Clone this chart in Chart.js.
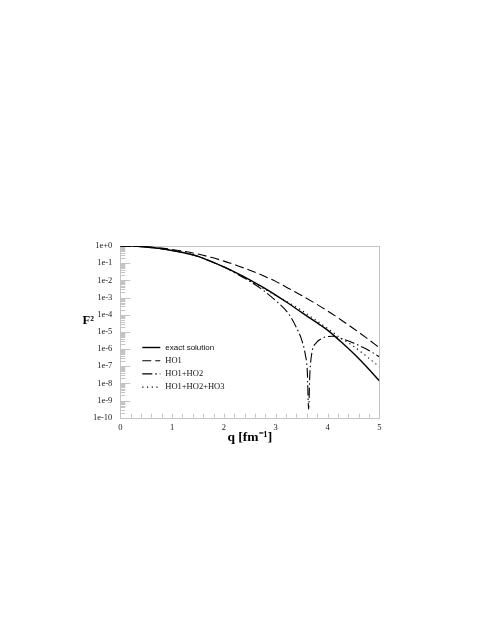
<!DOCTYPE html>
<html lang="en">
<head>
<meta charset="UTF-8">
<title>F2 vs q</title>
<script src="https://cdn.jsdelivr.net/npm/chart.js@4"></script>
<style>
  html, body { margin: 0; padding: 0; background: #fff; }
  canvas { display: block; }
</style>
</head>
<body>
<canvas id="ffChart" width="488" height="632"></canvas>
<script>
// q values [fm^-1]
const qGrid = [0, 0.25, 0.5, 0.75, 1, 1.25, 1.5, 1.75, 2, 2.25, 2.5, 2.75, 3, 3.25, 3.5, 3.75, 4, 4.25, 4.5, 4.75, 5];
// HO1+HO2 is read more densely around its zero
const qHO12 = [0, 0.25, 0.5, 0.75, 1, 1.25, 1.5, 1.75, 2, 2.25, 2.5, 2.75, 3, 3.25, 3.4, 3.5, 3.57, 3.61, 3.635, 3.66, 3.7, 3.78, 3.88, 4, 4.1, 4.25, 4.5, 4.75, 5];

const exactSolution = [1, 0.977, 0.871, 0.724, 0.55, 0.389, 0.251, 0.126, 0.0603, 0.0263, 0.0107, 3.98e-3, 1.38e-3, 4.47e-4, 1.35e-4, 4.17e-5, 1.26e-5, 2.82e-6, 5.62e-7, 9.55e-8, 1.41e-8];
const ho1 = [1, 0.977, 0.891, 0.776, 0.631, 0.479, 0.339, 0.219, 0.132, 0.0741, 0.0389, 0.0191, 8.71e-3, 3.39e-3, 1.32e-3, 4.79e-4, 1.66e-4, 5.25e-5, 1.58e-5, 4.47e-6, 1.2e-6];
const ho12 = [1, 0.977, 0.871, 0.724, 0.55, 0.389, 0.251, 0.126, 0.0589, 0.024, 8.71e-3, 2.75e-3, 6.61e-4, 1.12e-4, 1.78e-5, 3.55e-6, 5.01e-7, 5.01e-8, 3.16e-10, 3.98e-8, 6.31e-7, 2.24e-6, 3.98e-6, 5.37e-6, 5.5e-6, 4.17e-6, 2.24e-6, 1.0e-6, 3.55e-7];
const ho123 = [1, 0.977, 0.871, 0.724, 0.55, 0.389, 0.251, 0.126, 0.0603, 0.0251, 9.55e-3, 3.55e-3, 1.32e-3, 5.01e-4, 1.78e-4, 5.37e-5, 1.58e-5, 4.47e-6, 1.48e-6, 3.8e-7, 9.33e-8];

const seriesNames = ['exact solution', 'HO1', 'HO1+HO2', 'HO1+HO2+HO3'];
const legendFonts = ['8px "Liberation Sans"', '8.5px "Liberation Serif"', '8.5px "Liberation Serif"', '8.5px "Liberation Serif"'];
const xTickLabels = ['0', '1', '2', '3', '4', '5'];
const yTickLabels = ['1e+0', '1e-1', '1e-2', '1e-3', '1e-4', '1e-5', '1e-6', '1e-7', '1e-8', '1e-9', '1e-10'];

const pts = (xs, ys) => xs.map((x, i) => ({ x: x, y: ys[i] }));
const isDecade = v => Math.abs(Math.log10(v) - Math.round(Math.log10(v))) < 1e-6;
const axisGray = '#c4c4c4';

// frame, inward ticks, F^2 label and the legend inside the plot
const decorations = {
    id: 'decorations',
    beforeDatasetsDraw(chart) {
        const { ctx, chartArea: a, scales: { x, y } } = chart;
        ctx.save();
        ctx.strokeStyle = axisGray;
        ctx.lineWidth = 1;
        ctx.beginPath();
        y.ticks.forEach(t => {
            const py = Math.round(y.getPixelForValue(t.value)) + 0.5;
            ctx.moveTo(a.left, py);
            ctx.lineTo(a.left + (isDecade(t.value) ? 10 : 5), py);
        });
        x.ticks.forEach(t => {
            const px = Math.round(x.getPixelForValue(t.value)) + 0.5;
            ctx.moveTo(px, a.bottom);
            ctx.lineTo(px, a.bottom - 4);
        });
        ctx.stroke();
        ctx.strokeRect(Math.round(a.left) + 0.5, Math.round(a.top) + 0.5, Math.round(a.width), Math.round(a.height));

        ctx.fillStyle = '#000';
        ctx.font = 'bold 12.5px "Liberation Serif"';
        ctx.textAlign = 'center';
        ctx.textBaseline = 'middle';
        ctx.fillText('F²', a.left - 32, a.top + 75);
        ctx.restore();
    },
    afterDatasetsDraw(chart) {
        const { ctx, chartArea: a } = chart;
        ctx.save();
        chart.data.datasets.forEach((ds, i) => {
            const yy = a.top + 101.5 + i * 13.2;
            ctx.strokeStyle = ds.borderColor;
            ctx.lineWidth = ds.borderWidth;
            ctx.setLineDash(ds.borderDash || []);
            ctx.beginPath();
            ctx.moveTo(a.left + 22, yy);
            ctx.lineTo(a.left + 40, yy);
            ctx.stroke();
            ctx.setLineDash([]);
            ctx.fillStyle = '#111';
            ctx.font = legendFonts[i];
            ctx.textAlign = 'left';
            ctx.textBaseline = 'middle';
            ctx.fillText(ds.label, a.left + 45, yy);
        });
        ctx.restore();
    }
};

const ctx = document.getElementById('ffChart').getContext('2d');
new Chart(ctx, {
    type: 'line',
    data: {
        datasets: [
            { label: seriesNames[0], data: pts(qGrid, exactSolution), borderColor: '#000', borderWidth: 1.4 },
            { label: seriesNames[1], data: pts(qGrid, ho1), borderColor: '#000', borderWidth: 1.1, borderDash: [9, 4] },
            { label: seriesNames[2], data: pts(qHO12, ho12), borderColor: '#000', borderWidth: 1.1, borderDash: [10, 3, 1.5, 3] },
            { label: seriesNames[3], data: pts(qGrid, ho123), borderColor: '#000', borderWidth: 1.1, borderDash: [1.2, 3.5] }
        ]
    },
    options: {
        responsive: false,
        animation: false,
        devicePixelRatio: 1,
        layout: { padding: { left: 0, top: 246, right: 108.7, bottom: 186.3 } },
        elements: { point: { radius: 0 }, line: { cubicInterpolationMode: 'monotone', fill: false } },
        plugins: { legend: { display: false }, tooltip: { enabled: false } },
        scales: {
            x: {
                type: 'linear',
                min: 0,
                max: 5,
                grid: { display: false, drawTicks: false },
                border: { display: false },
                ticks: {
                    stepSize: 0.2,
                    autoSkip: false,
                    maxRotation: 0,
                    padding: 5,
                    color: '#222',
                    font: { family: 'Liberation Serif', size: 8.5 },
                    callback: v => Math.abs(v - Math.round(v)) < 1e-6 ? xTickLabels[Math.round(v)] : ''
                },
                title: {
                    display: true,
                    text: 'q [fm⁻¹]',
                    color: '#000',
                    padding: 0,
                    font: { family: 'Liberation Serif', size: 13.5, weight: 'bold' }
                },
                afterFit: s => { s.height = 28; }
            },
            y: {
                type: 'logarithmic',
                min: 1e-10,
                max: 1,
                grid: { display: false, drawTicks: false },
                border: { display: false },
                ticks: {
                    autoSkip: false,
                    padding: 8,
                    color: '#222',
                    font: { family: 'Liberation Serif', size: 8.5 },
                    callback: v => isDecade(v) ? yTickLabels[-Math.round(Math.log10(v))] : ''
                },
                afterBuildTicks: s => {
                    const ticks = [];
                    for (let e = -10; e <= 0; e++) {
                        for (let m = 1; m <= 9; m++) {
                            if (e === 0 && m > 1) break;
                            ticks.push({ value: m * Math.pow(10, e) });
                        }
                    }
                    s.ticks = ticks;
                },
                afterFit: s => { s.width = 120.3; }
            }
        }
    },
    plugins: [decorations]
});
</script>
</body>
</html>
